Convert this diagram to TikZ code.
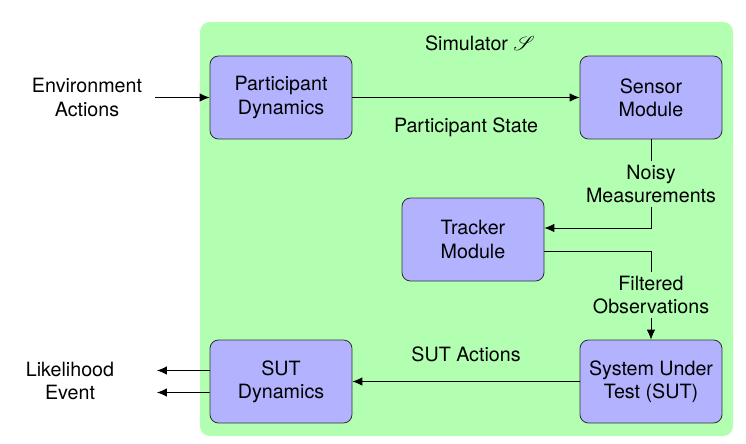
\documentclass[tikz,border=0pt]{standalone}
\usepackage{fontspec}
\usepackage{mathrsfs}
\setmainfont{TeX Gyre Heros}
\usetikzlibrary{arrows.meta}
\tikzset{
  block/.style={draw=black!80, fill=blue!30, rounded corners=6pt, minimum width=3.55cm, minimum height=2.075cm, align=center, line width=0.6pt},
  flow/.style={-{Latex[length=7pt,width=6pt]}, line width=0.6pt},
  txt/.style={align=center},
  gap/.style={align=center, fill=green!30, inner sep=3pt}
}
\begin{document}
\begin{tikzpicture}[font=\fontsize{14}{16.5}\selectfont]
\useasboundingbox (0,0) rectangle (18.65,11.075);
\fill[green!30, rounded corners=7pt] (5.0,0.175) rectangle (18.325,10.525);
\node[txt] (sim) at (12.0,10.0) {Simulator $\mathscr{S}$};

\node[block] (pd) at (7.025,8.6375) {Participant\\Dynamics};
\node[block] (sens) at (16.275,8.6375) {Sensor\\Module};
\node[block] (track) at (11.825,5.0875) {Tracker\\Module};
\node[block] (sutdyn) at (7.025,1.5375) {SUT\\Dynamics};
\node[block] (sut) at (16.275,1.5375) {System Under\\Test (SUT)};

\node[txt] (env) at (2.175,8.6375) {Environment\\Actions};
\coordinate (envout) at (3.875,8.6375);
\node[txt] (out) at (1.75,1.55) {Likelihood\\Event};
\coordinate (lik) at (3.925,1.8125);
\coordinate (evt) at (3.925,1.2625);

\draw[flow] (envout) -- (pd);
\draw[flow] (pd) -- node[below=11pt] {Participant State} (sens);
\draw[flow] (sens.south) |- node[pos=0.25, gap] {Noisy\\Measurements} ([yshift=0.2875cm]track.east);
\draw[flow] ([yshift=-0.2875cm]track.east) -| node[pos=0.75, gap] {Filtered\\Observations} (sut.north);
\draw[flow] (sut) -- node[above=10pt] {SUT Actions} (sutdyn);
\draw[flow] ([yshift=0.275cm]sutdyn.west) -- (lik);
\draw[flow] ([yshift=-0.275cm]sutdyn.west) -- (evt);
\end{tikzpicture}
\end{document}
